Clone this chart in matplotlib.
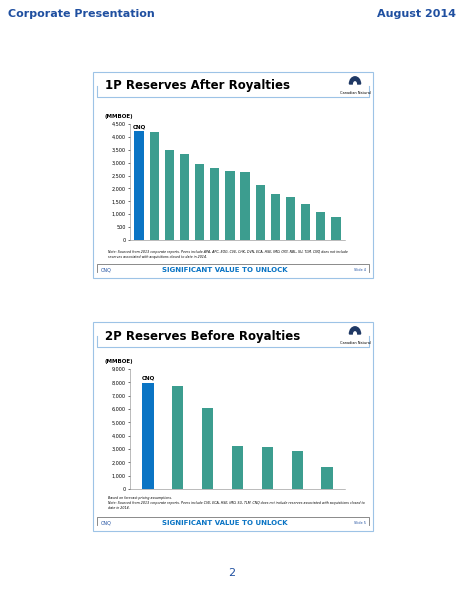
import matplotlib.pyplot as plt
from matplotlib.patches import Rectangle, Wedge

W, H = 464, 600

titles = ['1P Reserves After Royalties', '2P Reserves Before Royalties']
vals_1p = [4230, 4200, 3480, 3340, 2960, 2800, 2680, 2650, 2120, 1800, 1670, 1410, 1100, 890]
vals_2p = [7980, 7700, 6080, 3200, 3130, 2870, 1640]
yticks_1p = [0, 500, 1000, 1500, 2000, 2500, 3000, 3500, 4000, 4500]
yticks_2p = [0, 1000, 2000, 3000, 4000, 5000, 6000, 7000, 8000, 9000]
notes = ['Note: Sourced from 2013 corporate reports. Peers include APA, APC, EOG, CVE, CHK, DVN, ECA, HSE, IMO, OXY, NBL, SU, TLM. CNQ does not include\nreserves associated with acquisitions closed to date in 2014.',
         'Based on forecast pricing assumptions.\nNote: Sourced from 2013 corporate reports. Peers include CVE, ECA, HSE, IMO, SU, TLM. CNQ does not include reserves associated with acquisitions closed to\ndate in 2014.']
slide_nums = ['Slide 4', 'Slide 5']

BLUE = '#0A74C4'
TEAL = '#3C9D8F'
NAVY = '#1F4FA0'

fig = plt.figure(figsize=(W / 100, H / 100), dpi=100)

def fx(x): return x / W
def fy(y): return 1 - y / H

fig.text(fx(8), fy(14), 'Corporate Presentation', color=NAVY, fontsize=8, fontweight='bold', va='center')
fig.text(fx(456), fy(14), 'August 2014', color=NAVY, fontsize=8, fontweight='bold', va='center', ha='right')
fig.text(fx(232), fy(573), '2', color=NAVY, fontsize=8, va='center', ha='center')

def line(xs, ys, **kw):
    fig.add_artist(plt.Line2D([fx(v) for v in xs], [fy(v) for v in ys], transform=fig.transFigure, **kw))

def slide(top, bottom, ax_top, ax_bot, title, vals, yticks, note, snum, note_y, bw):
    fig.add_artist(Rectangle((fx(93), fy(bottom)), fx(373) - fx(93), fy(top) - fy(bottom),
                             transform=fig.transFigure, fill=False, ec='#9DC3E6', lw=0.8))
    line([97, 97, 369, 369], [top + 14, top + 25, top + 25, top + 14], color='#9DC3E6', lw=0.8)
    fig.text(fx(105), fy(top + 14), title, fontsize=8.5, fontweight='bold', va='center')
    fig.text(fx(355), fy(top + 21), 'Canadian Natural', fontsize=2.5, ha='center', va='center')
    # logo
    lx, ly = 355, top + 12
    fig.add_artist(Wedge((fx(lx), fy(ly)), 0.012, 0, 180, width=0.006, transform=fig.transFigure,
                         color='#1F3864'))
    # footer
    fy_f = bottom - 10
    line([97, 97, 369, 369], [fy_f + 4, fy_f - 4, fy_f - 4, fy_f + 4], color='#777777', lw=0.6)
    fig.text(fx(101), fy(fy_f + 2), 'CNQ', fontsize=3.5, color=NAVY, va='center')
    fig.text(fx(225), fy(fy_f + 2), 'SIGNIFICANT VALUE TO UNLOCK', fontsize=5, fontweight='bold', color=BLUE, ha='center', va='center')
    fig.text(fx(366), fy(fy_f + 2), snum, fontsize=2.5, color=NAVY, ha='right', va='center')
    fig.text(fx(108), fy(note_y), note, fontsize=2.3, style='italic', va='top', linespacing=1.4)

    ax = fig.add_axes([fx(130), fy(ax_bot), fx(345) - fx(130), fy(ax_top) - fy(ax_bot)])
    x = list(range(len(vals)))
    colors = [BLUE] + [TEAL] * (len(vals) - 1)
    ax.bar(x, vals, width=bw, color=colors)
    ax.set_xlim(-0.6, len(vals) - 0.4)
    ax.set_ylim(0, yticks[-1])
    ax.set_yticks(yticks)
    ax.set_yticklabels([f'{t:,}' for t in yticks], fontsize=3.5)
    ax.set_xticks([])
    ax.tick_params(axis='y', length=1.5, width=0.4, pad=1.5)
    for s in ['top', 'right']:
        ax.spines[s].set_visible(False)
    for s in ['left', 'bottom']:
        ax.spines[s].set_linewidth(0.4)
        ax.spines[s].set_color('#888888')
    ax.text(0, vals[0] + yticks[-1] * 0.015, 'CNQ', fontsize=4, fontweight='bold', ha='center', va='bottom')
    ax.text(-0.12, 1.04, '(MMBOE)', transform=ax.transAxes, fontsize=4, fontweight='bold', va='bottom')

slide(72, 278, 124, 240, titles[0], vals_1p, yticks_1p, notes[0], slide_nums[0], 250, 0.62)
slide(322, 531, 369, 489, titles[1], vals_2p, yticks_2p, notes[1], slide_nums[1], 496, 0.38)

fig.savefig('out.png', dpi=100)
